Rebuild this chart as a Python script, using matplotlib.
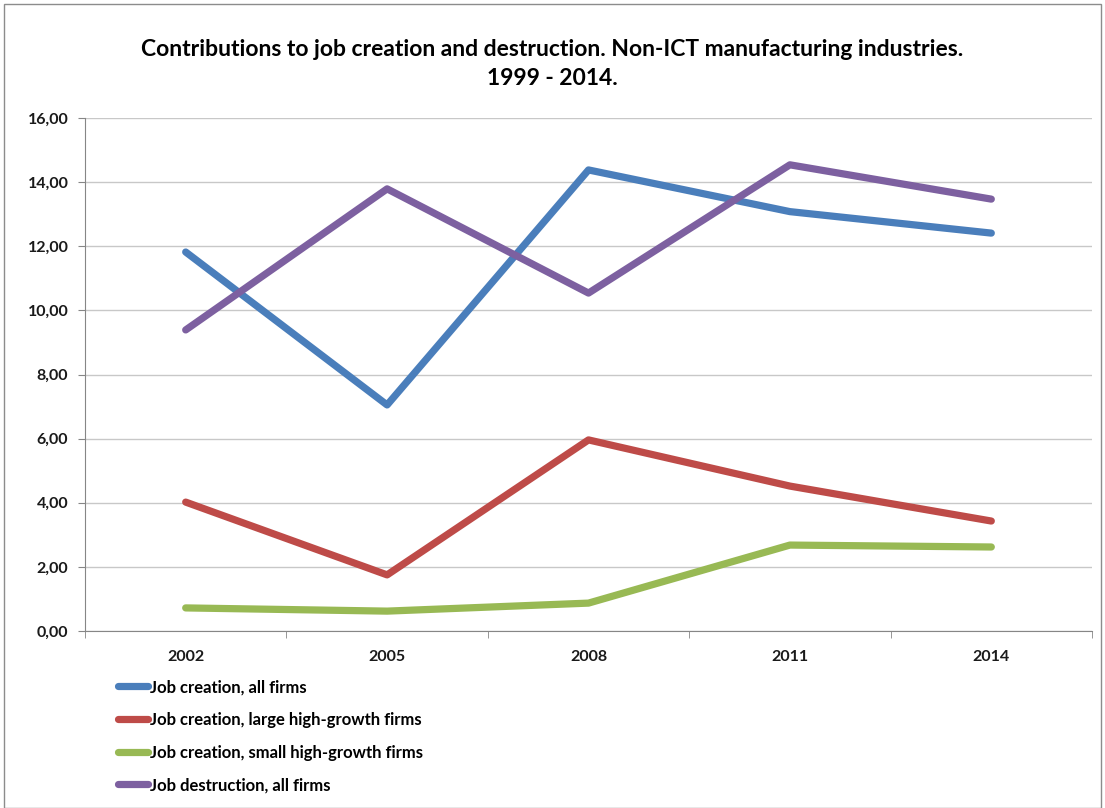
import matplotlib.pyplot as plt
from matplotlib.patches import Rectangle
from matplotlib.ticker import FuncFormatter

# Contributions to job creation / destruction, non-ICT manufacturing
years = ['2002', '2005', '2008', '2011', '2014']
creation_all = [11.82, 7.05, 14.38, 13.08, 12.41]
creation_large = [4.02, 1.75, 5.96, 4.52, 3.43]
creation_small = [0.72, 0.62, 0.87, 2.68, 2.62]
destruction_all = [9.39, 13.79, 10.54, 14.54, 13.47]

labels = ['Job creation, all firms',
          'Job creation, large high-growth firms',
          'Job creation, small high-growth firms',
          'Job destruction, all firms']
colors = ['#4A7EBB', '#BE4B48', '#98B954', '#7D60A0']

plt.rcParams['font.family'] = ['Lato', 'DejaVu Sans']

fig = plt.figure(figsize=(11.05, 8.08), dpi=100)
ax = fig.add_axes([85 / 1105, 1 - 631 / 808, 1007 / 1105, 513 / 808])

x = range(len(years))
series = [creation_all, creation_large, creation_small, destruction_all]
for vals, lab, col in zip(series, labels, colors):
    ax.plot(x, vals, color=col, lw=5.2, solid_capstyle='round',
            solid_joinstyle='round', label=lab)

ax.set_xlim(-0.5, len(years) - 0.5)
ax.set_ylim(0, 16)
ax.set_yticks(range(0, 17, 2))
ax.yaxis.set_major_formatter(FuncFormatter(lambda v, p: f'{v:.2f}'.replace('.', ',')))
ax.set_xticks(list(x))
ax.set_xticklabels(years)
ax.set_xticks([i + 0.5 for i in range(-1, len(years))], minor=True)
ax.tick_params(axis='x', which='major', length=0, pad=14)
ax.tick_params(axis='x', which='minor', length=5, color='#868686', direction='out')
ax.tick_params(axis='y', length=5, color='#868686', pad=7)
for t in ax.get_xticklabels() + ax.get_yticklabels():
    t.set_fontsize(11.5)
    t.set_fontweight('bold')
    t.set_color('#1a1a1a')

ax.grid(axis='y', color='#c8c8c8', lw=1)
ax.set_axisbelow(True)
for s in ['top', 'right']:
    ax.spines[s].set_visible(False)
ax.spines['left'].set_color('#868686')
ax.spines['bottom'].set_color('#868686')

fig.text(0.5, 1 - 64 / 808, 'Contributions to job creation and destruction. Non-ICT manufacturing industries.\n1999 - 2014.',
         ha='center', va='center', fontsize=16.5, fontweight='bold', linespacing=1.5)

leg = ax.legend(loc='upper left', bbox_to_anchor=(110 / 1105, 1 - 671 / 808),
                bbox_transform=fig.transFigure, frameon=False, handlelength=1.8,
                handletextpad=0.1, labelspacing=1.0, borderpad=0,
                prop={'size': 12, 'weight': 'bold'})

# chart area border
fig.patches.append(Rectangle((4 / 1105, 0), 1 - 8 / 1105, 1 - 4 / 808, transform=fig.transFigure,
                             fill=False, edgecolor='#8c8c8c', lw=1))

fig.savefig('out.png', dpi=100)
